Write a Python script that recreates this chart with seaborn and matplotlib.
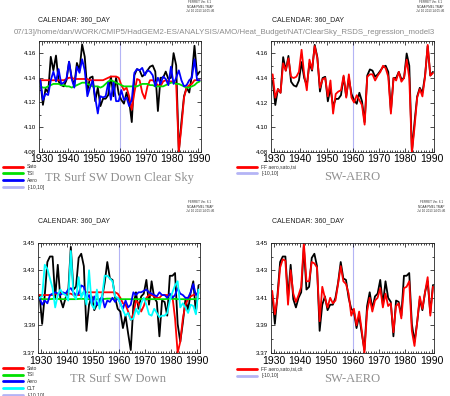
import numpy as np
import matplotlib
matplotlib.use("Agg")
import matplotlib.pyplot as plt
import seaborn as sns
from matplotlib.ticker import MultipleLocator, FixedLocator

# =========================
# DATA
# =========================

years = np.arange(1929.5, 1991.0, 1.0)

top_total = [4.138, 4.118, 4.131, 4.128, 4.157, 4.146, 4.158, 4.137, 4.134, 4.133,
             4.138, 4.153, 4.140, 4.134, 4.152, 4.146, 4.167, 4.157, 4.129, 4.140,
             4.141, 4.121, 4.132, 4.117, 4.123, 4.123, 4.126, 4.141, 4.125, 4.140,
             4.127, 4.122, 4.119, 4.128, 4.121, 4.104, 4.142, 4.147, 4.146, 4.141,
             4.143, 4.146, 4.149, 4.150, 4.145, 4.113, 4.140, 4.140, 4.145, 4.139,
             4.140, 4.160, 4.150, 4.080, 4.104, 4.125, 4.132, 4.128, 4.142, 4.166,
             4.142, 4.145]

top_fit = [4.143, 4.124, 4.131, 4.128, 4.152, 4.146, 4.156, 4.141, 4.140, 4.141,
           4.145, 4.163, 4.143, 4.130, 4.155, 4.147, 4.166, 4.156, 4.132, 4.139,
           4.140, 4.125, 4.138, 4.111, 4.127, 4.129, 4.130, 4.142, 4.124, 4.143,
           4.124, 4.120, 4.126, 4.122, 4.118, 4.102, 4.141, 4.143, 4.143, 4.138,
           4.142, 4.145, 4.150, 4.148, 4.141, 4.111, 4.140, 4.138, 4.145, 4.137,
           4.140, 4.155, 4.140, 4.079, 4.100, 4.124, 4.131, 4.125, 4.141, 4.167,
           4.142, 4.144]

top_aero = [4.138, 4.122, 4.127, 4.126, 4.138, 4.145, 4.137, 4.147, 4.135, 4.136,
            4.139, 4.153, 4.139, 4.132, 4.149, 4.144, 4.155, 4.146, 4.125, 4.132,
            4.138, 4.124, 4.111, 4.125, 4.124, 4.125, 4.136, 4.122, 4.136, 4.121,
            4.121, 4.130, 4.122, 4.124, 4.117, 4.122, 4.144, 4.147, 4.146, 4.148,
            4.142, 4.146, 4.145, 4.142, 4.133, 4.140, 4.135, 4.141, 4.139, 4.134,
            4.149, 4.135, 4.140, 4.146, 4.138, 4.133, 4.134, 4.138, 4.140, 4.155,
            4.138, 4.138]

top_sato = [4.138, 4.138, 4.138, 4.138, 4.138, 4.138, 4.138, 4.138, 4.138, 4.138,
            4.139, 4.140, 4.140, 4.139, 4.139, 4.139, 4.139, 4.139, 4.139, 4.138,
            4.138, 4.138, 4.138, 4.138, 4.138, 4.139, 4.140, 4.141, 4.141, 4.141,
            4.140, 4.134, 4.130, 4.132, 4.125, 4.114, 4.128, 4.139, 4.138, 4.128,
            4.123, 4.133, 4.138, 4.138, 4.136, 4.134, 4.133, 4.137, 4.138, 4.137,
            4.137, 4.137, 4.135, 4.080, 4.100, 4.124, 4.132, 4.134, 4.135, 4.138,
            4.138, 4.138]

top_tsi = [4.133, 4.132, 4.132, 4.133, 4.134, 4.135, 4.135, 4.135, 4.134, 4.134,
           4.133, 4.133, 4.132, 4.133, 4.134, 4.135, 4.136, 4.136, 4.135, 4.134,
           4.133, 4.133, 4.133, 4.132, 4.133, 4.135, 4.137, 4.138, 4.137, 4.136,
           4.135, 4.134, 4.133, 4.133, 4.133, 4.133, 4.133, 4.133, 4.134, 4.135,
           4.135, 4.135, 4.134, 4.134, 4.133, 4.133, 4.133, 4.133, 4.134, 4.135,
           4.136, 4.136, 4.135, 4.135, 4.134, 4.133, 4.132, 4.132, 4.133, 4.134,
           4.136, 4.137]

bot_total = [3.412, 3.391, 3.412, 3.436, 3.440, 3.440, 3.410, 3.434, 3.409, 3.403,
             3.410, 3.414, 3.447, 3.416, 3.418, 3.439, 3.442, 3.433, 3.386, 3.405,
             3.411, 3.401, 3.405, 3.405, 3.410, 3.421, 3.436, 3.424, 3.423, 3.410,
             3.402, 3.400, 3.388, 3.397, 3.384, 3.372, 3.404, 3.414, 3.402, 3.411,
             3.413, 3.423, 3.405, 3.422, 3.410, 3.407, 3.382, 3.408, 3.407, 3.397,
             3.426, 3.426, 3.428, 3.391, 3.378, 3.392, 3.409, 3.401, 3.414, 3.422,
             3.399, 3.419]

bot_fit = [3.415, 3.398, 3.410, 3.432, 3.438, 3.437, 3.405, 3.430, 3.413, 3.407,
           3.412, 3.418, 3.450, 3.422, 3.422, 3.436, 3.435, 3.432, 3.393, 3.418,
           3.410, 3.403, 3.410, 3.406, 3.408, 3.420, 3.433, 3.422, 3.420, 3.413,
           3.397, 3.402, 3.390, 3.400, 3.386, 3.370, 3.400, 3.410, 3.400, 3.408,
           3.410, 3.417, 3.403, 3.413, 3.404, 3.406, 3.385, 3.404, 3.406, 3.395,
           3.417, 3.418, 3.422, 3.386, 3.375, 3.392, 3.411, 3.402, 3.414, 3.425,
           3.397, 3.418]

bot_sato = [3.412, 3.412, 3.412, 3.412, 3.412, 3.412, 3.413, 3.413, 3.413, 3.413,
            3.413, 3.413, 3.413, 3.412, 3.412, 3.412, 3.412, 3.414, 3.414, 3.414,
            3.414, 3.414, 3.414, 3.414, 3.414, 3.414, 3.414, 3.414, 3.414, 3.414,
            3.413, 3.410, 3.406, 3.405, 3.400, 3.394, 3.398, 3.408, 3.406, 3.400,
            3.404, 3.410, 3.412, 3.412, 3.411, 3.410, 3.410, 3.412, 3.412, 3.412,
            3.412, 3.411, 3.395, 3.370, 3.378, 3.395, 3.405, 3.409, 3.411, 3.412,
            3.413, 3.413]

bot_tsi = [3.409, 3.409, 3.409, 3.409, 3.409, 3.4092, 3.4092, 3.4092, 3.409, 3.409,
           3.409, 3.409, 3.409, 3.409, 3.409, 3.4092, 3.4093, 3.4092, 3.409, 3.409,
           3.409, 3.409, 3.409, 3.409, 3.409, 3.4092, 3.4094, 3.4094, 3.4093, 3.409,
           3.409, 3.409, 3.409, 3.409, 3.409, 3.409, 3.409, 3.409, 3.409, 3.4092,
           3.4092, 3.4092, 3.409, 3.409, 3.409, 3.409, 3.409, 3.409, 3.409, 3.4092,
           3.4093, 3.4093, 3.4092, 3.409, 3.409, 3.409, 3.409, 3.409, 3.409, 3.409,
           3.4092, 3.4093]

bot_aero = [3.410, 3.405, 3.408, 3.406, 3.412, 3.413, 3.414, 3.413, 3.412, 3.414,
            3.413, 3.416, 3.417, 3.414, 3.412, 3.413, 3.419, 3.418, 3.409, 3.412,
            3.406, 3.411, 3.405, 3.408, 3.411, 3.403, 3.408, 3.407, 3.410, 3.407,
            3.410, 3.406, 3.402, 3.408, 3.403, 3.405, 3.414, 3.412, 3.414, 3.414,
            3.415, 3.416, 3.414, 3.413, 3.412, 3.411, 3.414, 3.412, 3.412, 3.410,
            3.413, 3.410, 3.412, 3.417, 3.413, 3.412, 3.410, 3.410, 3.414, 3.420,
            3.412, 3.414]

bot_clt = [3.410, 3.411, 3.434, 3.431, 3.424, 3.417, 3.403, 3.412, 3.416, 3.413,
           3.412, 3.408, 3.444, 3.412, 3.409, 3.425, 3.410, 3.415, 3.405, 3.430,
           3.405, 3.402, 3.416, 3.402, 3.411, 3.426, 3.426, 3.424, 3.422, 3.411,
           3.410, 3.406, 3.401, 3.397, 3.399, 3.394, 3.395, 3.402, 3.398, 3.406,
           3.410, 3.405, 3.398, 3.397, 3.402, 3.399, 3.396, 3.397, 3.397, 3.399,
           3.408, 3.414, 3.419, 3.422, 3.403, 3.406, 3.403, 3.399, 3.405, 3.404,
           3.398, 3.416]

top_yticks = [4.08, 4.10, 4.12, 4.14, 4.16]
bot_yticks = [3.37, 3.39, 3.41, 3.43, 3.45]
xticks = [1930, 1940, 1950, 1960, 1970, 1980, 1990]

path_text = "07/13]/home/dan/WORK/CMIP5/HadGEM2-ES/ANALYSIS/AMO/Heat_Budget/NAT/ClearSky_RSDS_regression_model3"
stamp = "FERRET Ver. 6.1\nNOAA/PMEL TMAP\nJul 10 2013 14:05:46"

# =========================
# STYLE
# =========================

sns.set_style("ticks")
plt.rcParams['font.family'] = ['Liberation Sans', 'DejaVu Sans']

RED = "#ff0000"
GREEN = "#00e000"
BLUE = "#0000ff"
CYAN = "#00ffff"
LAV = "#b4b4f5"
LW = 1.3

fig = plt.figure(figsize=(4.5, 3.96), dpi=100)

ax1 = fig.add_axes([0.0867, 0.617, 0.360, 0.280])
ax2 = fig.add_axes([0.603, 0.617, 0.362, 0.279])
ax3 = fig.add_axes([0.085, 0.109, 0.359, 0.278])
ax4 = fig.add_axes([0.602, 0.109, 0.363, 0.278])


def style_axis(ax, ylim, yticks):
    ax.set_xlim(1929, 1991)
    ax.set_ylim(*ylim)
    ax.xaxis.set_major_locator(FixedLocator(xticks))
    ax.xaxis.set_minor_locator(MultipleLocator(1))
    ax.yaxis.set_major_locator(FixedLocator(yticks))
    ax.yaxis.set_minor_locator(MultipleLocator(0.01))
    ax.set_yticklabels(["%.2f" % t for t in yticks])
    ax.tick_params(axis='both', which='both', direction='in', top=True, right=True,
                   width=0.5, colors='black')
    ax.tick_params(axis='both', which='major', length=3)
    ax.tick_params(axis='both', which='minor', length=1.5)
    ax.tick_params(axis='x', labelsize=7.5, pad=2)
    ax.tick_params(axis='y', labelsize=4.5, pad=2)
    for s in ax.spines.values():
        s.set_linewidth(0.6)
        s.set_visible(True)
    ax.set_xlabel("")
    ax.set_ylabel("")


def draw(ax, values, color):
    sns.lineplot(x=years, y=values, ax=ax, color=color, linewidth=LW)
    return ax.lines[-1]


def add_legend(handles, labels, x, y):
    leg = fig.legend(handles, labels, loc='upper left', bbox_to_anchor=(x, y),
                     frameon=False, fontsize=3.6, handlelength=4.0,
                     handletextpad=0.8, labelspacing=0.35, borderpad=0,
                     borderaxespad=0)
    for ln in leg.get_lines():
        ln.set_linewidth(2.0)
    for t in leg.get_texts():
        t.set_color('#333333')


# =========================
# TOP LEFT
# =========================

draw(ax1, top_total, 'black')
h_sato = draw(ax1, top_sato, RED)
h_tsi = draw(ax1, top_tsi, GREEN)
h_aero = draw(ax1, top_aero, BLUE)
h_ref = ax1.axvline(1960, color=LAV, lw=0.8, zorder=0)
style_axis(ax1, (4.08, 4.170), top_yticks)
add_legend([h_sato, h_tsi, h_aero, h_ref], ["Sato", "TSI", "Aero", "[-10,10]"], 0.007, 0.585)

# =========================
# TOP RIGHT
# =========================

draw(ax2, top_total, 'black')
h_fit = draw(ax2, top_fit, RED)
h_ref2 = ax2.axvline(1960, color=LAV, lw=0.8, zorder=0)
style_axis(ax2, (4.08, 4.170), top_yticks)
add_legend([h_fit, h_ref2], ["FF aero,sato,tsi", "[-10,10]"], 0.527, 0.585)

# =========================
# BOTTOM LEFT
# =========================

draw(ax3, bot_total, 'black')
b_sato = draw(ax3, bot_sato, RED)
b_tsi = draw(ax3, bot_tsi, GREEN)
b_aero = draw(ax3, bot_aero, BLUE)
b_clt = draw(ax3, bot_clt, CYAN)
b_ref = ax3.axvline(1960, color=LAV, lw=0.8, zorder=0)
style_axis(ax3, (3.37, 3.45), bot_yticks)
add_legend([b_sato, b_tsi, b_aero, b_clt, b_ref],
           ["Sato", "TSI", "Aero", "CLT", "[-10,10]"], 0.007, 0.077)

# =========================
# BOTTOM RIGHT
# =========================

draw(ax4, bot_total, 'black')
b_fit = draw(ax4, bot_fit, RED)
b_ref2 = ax4.axvline(1960, color=LAV, lw=0.8, zorder=0)
style_axis(ax4, (3.37, 3.45), bot_yticks)
add_legend([b_fit, b_ref2], ["FF aero,sato,tsi,clt", "[-10,10]"], 0.527, 0.074)

# =========================
# TEXT
# =========================

for x, y in [(0.085, 0.949), (0.604, 0.949), (0.085, 0.442), (0.604, 0.442)]:
    fig.text(x, y, "CALENDAR: 360_DAY", fontsize=5, color='#222222', va='center', ha='left')

fig.text(0.967, 0.917, path_text, fontsize=5.7, color='#8c8c8c', va='center', ha='right')

title_kw = dict(family=['Liberation Serif', 'DejaVu Serif'], color='#8f8f8f',
                fontsize=9, ha='center', va='center')
fig.text(0.266, 0.551, "TR Surf SW Down Clear Sky", **title_kw)
fig.text(0.782, 0.553, "SW-AERO", **title_kw)
fig.text(0.262, 0.043, "TR Surf SW Down", **title_kw)
fig.text(0.782, 0.043, "SW-AERO", **title_kw)

for x, y in [(0.444, 0.999), (0.956, 0.999), (0.444, 0.494), (0.958, 0.494)]:
    fig.text(x, y, stamp, fontsize=2.2, color='#333333', ha='center', va='top',
             linespacing=1.1)

fig.savefig("out.png", dpi=100)
